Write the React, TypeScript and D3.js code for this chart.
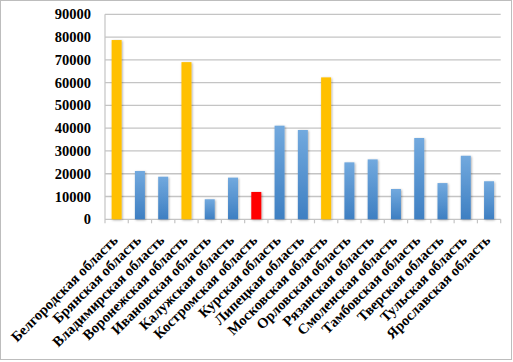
import React from "react";
import * as d3 from "d3";

const categories = [
  "Белгородская область",
  "Брянская область",
  "Владимирская область",
  "Воронежская область",
  "Ивановская область",
  "Калужская область",
  "Костромская область",
  "Курская область",
  "Липецкая область",
  "Московская область",
  "Орловская область",
  "Рязанская область",
  "Смоленская область",
  "Тамбовская область",
  "Тверская область",
  "Тульская область",
  "Ярославская область",
];

const values = [
  78700, 21200, 18700, 69000, 8800, 18300, 12000, 41100, 39200, 62300, 25000,
  26300, 13300, 35700, 15900, 27900, 16700,
];

// colour group for each bar: "hi" = yellow, "low" = red, "mid" = blue
const groups = [
  "hi", "mid", "mid", "hi", "mid", "mid", "low", "mid", "mid", "hi", "mid",
  "mid", "mid", "mid", "mid", "mid", "mid",
];

const yTicks = [0, 10000, 20000, 30000, 40000, 50000, 60000, 70000, 80000, 90000];

const W = 513;
const H = 362;
const left = 105;
const right = 500.7;
const top = 14.3;
const bottom = 219.3;

export default function App() {
  const x = d3.scaleBand<string>().domain(categories).range([left, right]).paddingInner(0).paddingOuter(0);
  const y = d3.scaleLinear().domain([0, 90000]).range([bottom, top]);
  const bw = 10;
  const fill = (g: string) => (g === "hi" ? "#FFC000" : g === "low" ? "#FF0000" : "url(#blueGrad)");

  return (
    <svg width={W} height={H} style={{ position: "absolute", left: 0, top: 0, background: "#fff" }}>
      <defs>
        <linearGradient id="blueGrad" x1="0" y1="0" x2="0" y2="1">
          <stop offset="0" stopColor="#72a9de" />
          <stop offset="1" stopColor="#3e7fc2" />
        </linearGradient>
        <filter id="shadow" x="-50%" y="-10%" width="200%" height="130%">
          <feDropShadow dx="0.8" dy="0.8" stdDeviation="0.8" floodColor="#000" floodOpacity="0.35" />
        </filter>
      </defs>
      <rect x={0.5} y={0.5} width={W - 2} height={H - 3} fill="#fff" stroke="#bdbdbd" strokeWidth={1} />
      {yTicks.map((t) => (
        <line key={"g" + t} x1={left} x2={right} y1={y(t)} y2={y(t)} stroke="#c4c4c4" strokeWidth={1.3} />
      ))}
      <line x1={left} x2={left} y1={top} y2={bottom + 4} stroke="#c4c4c4" strokeWidth={1.2} />
      {categories.map((c, i) => (
        <line key={"t" + i} x1={(x(c) as number) + x.bandwidth()} x2={(x(c) as number) + x.bandwidth()} y1={bottom} y2={bottom + 4} stroke="#c4c4c4" strokeWidth={1.2} />
      ))}
      {categories.map((c, i) => {
        const cx = (x(c) as number) + x.bandwidth() / 2;
        return (
          <rect
            key={"b" + i}
            x={cx - bw / 2}
            y={y(values[i])}
            width={bw}
            height={bottom - y(values[i])}
            fill={fill(groups[i])}
            filter="url(#shadow)"
          />
        );
      })}
      {yTicks.map((t) => (
        <text
          key={"yl" + t}
          x={91}
          y={y(t)}
          dy="0.35em"
          textAnchor="end"
          fontFamily="'Liberation Serif', 'Times New Roman', serif"
          fontWeight="bold"
          fontSize={14.5}
          fill="#000"
        >
          {t}
        </text>
      ))}
      {categories.map((c, i) => {
        const cx = (x(c) as number) + x.bandwidth() / 2;
        const ax = cx + 2;
        const ay = 241;
        return (
          <text
            key={"xl" + i}
            x={ax}
            y={ay}
            transform={`rotate(-45 ${ax} ${ay})`}
            textAnchor="end"
            fontFamily="'Liberation Serif', 'Times New Roman', serif"
            fontWeight="bold"
            fontSize={14.5}
            fill="#000"
          >
            {c}
          </text>
        );
      })}
    </svg>
  );
}
